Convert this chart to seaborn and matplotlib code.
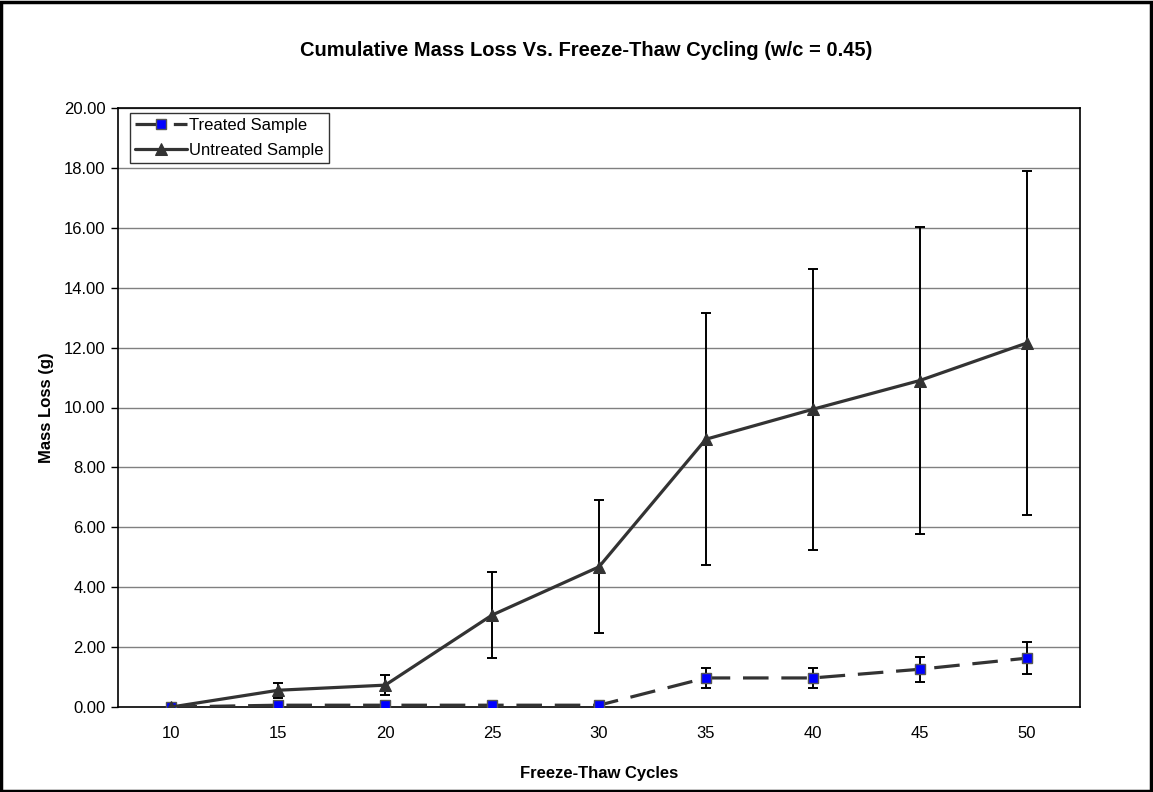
import numpy as np
import pandas as pd
import matplotlib
matplotlib.use("Agg")
import matplotlib.pyplot as plt
import seaborn as sns
from matplotlib.patches import Rectangle
from matplotlib.ticker import FormatStrFormatter

cycles = ["10", "15", "20", "25", "30", "35", "40", "45", "50"]
treated = [0.00, 0.06, 0.06, 0.06, 0.06, 0.97, 0.97, 1.26, 1.63]
treated_err = [0.00, 0.00, 0.00, 0.00, 0.00, 0.33, 0.33, 0.42, 0.54]
untreated = [0.00, 0.56, 0.73, 3.07, 4.68, 8.94, 9.94, 10.90, 12.15]
untreated_err = [0.00, 0.25, 0.33, 1.44, 2.22, 4.20, 4.69, 5.13, 5.73]
y_ticks = [0, 2, 4, 6, 8, 10, 12, 14, 16, 18, 20]

sns.set_style("white")
plt.rcParams["font.family"] = ["Liberation Sans", "DejaVu Sans"]
plt.rcParams.update({"text.color": "black", "axes.labelcolor": "black",
                     "xtick.color": "black", "ytick.color": "black"})

pos = np.arange(len(cycles))
df = pd.DataFrame({
    "pos": np.concatenate([pos, pos]),
    "loss": treated + untreated,
    "series": ["Treated Sample"] * len(cycles) + ["Untreated Sample"] * len(cycles),
})

fig = plt.figure(figsize=(11.53, 7.92), dpi=100)
ax = fig.add_axes([118 / 1153, 1 - 707 / 792, (1080 - 118) / 1153, (707 - 108) / 792])

# gridlines
for t in y_ticks[1:]:
    ax.axhline(t, color="#808080", lw=1.0, zorder=0)

ax.errorbar(pos, treated, yerr=treated_err, fmt="none", ecolor="black",
            elinewidth=1.4, capsize=3.8, capthick=1.4, zorder=2)
ax.errorbar(pos, untreated, yerr=untreated_err, fmt="none", ecolor="black",
            elinewidth=1.4, capsize=3.8, capthick=1.4, zorder=2)

sns.lineplot(data=df[df.series == "Treated Sample"], x="pos", y="loss", ax=ax,
             color="#333333", lw=2.3, marker="s", markersize=7.5,
             markerfacecolor="#0000FF", markeredgecolor="#555555", markeredgewidth=1.0,
             dashes=False, label="Treated Sample", zorder=3)
ax.lines[-1].set_dashes([8, 4])
sns.lineplot(data=df[df.series == "Untreated Sample"], x="pos", y="loss", ax=ax,
             color="#333333", lw=2.3, marker="^", markersize=8,
             markerfacecolor="#333333", markeredgecolor="#333333",
             label="Untreated Sample", zorder=4)

ax.set_xlim(-0.5, len(cycles) - 0.5)
ax.set_ylim(0, 20)
ax.set_xticks(pos)
ax.set_xticklabels(cycles)
ax.set_yticks(y_ticks)
ax.yaxis.set_major_formatter(FormatStrFormatter("%.2f"))
ax.tick_params(axis="x", length=0, labelsize=12, pad=14, colors="black")
ax.tick_params(axis="y", length=5, width=1, direction="out", labelsize=12, pad=4, left=True,
               colors="black")
for s in ax.spines.values():
    s.set_color("black")
    s.set_linewidth(1.2)

ax.set_xlabel("Freeze-Thaw Cycles", fontsize=12, fontweight="bold", labelpad=18, color="black")
ax.set_ylabel("Mass Loss (g)", fontsize=12, fontweight="bold", labelpad=7, color="black")

leg = ax.legend(loc="upper left", bbox_to_anchor=(12 / 962, 1 - 5 / 599), frameon=True,
                fancybox=False, fontsize=12, handlelength=3.1, handletextpad=0.15,
                borderpad=0.3, labelspacing=0.6, borderaxespad=0)
leg.get_frame().set_edgecolor("black")
leg.get_frame().set_linewidth(1.0)
for txt in leg.get_texts():
    txt.set_color("black")

fig.text(586 / 1153, 1 - 50 / 792, "Cumulative Mass Loss Vs. Freeze-Thaw Cycling (w/c = 0.45)",
         ha="center", va="center", fontsize=14.5, fontweight="bold", color="black")

fig.patches.append(Rectangle((0.001, 0.001), 0.997, 0.997, transform=fig.transFigure,
                             fill=False, edgecolor="black", lw=2.5))

fig.savefig("out.png", dpi=100)
